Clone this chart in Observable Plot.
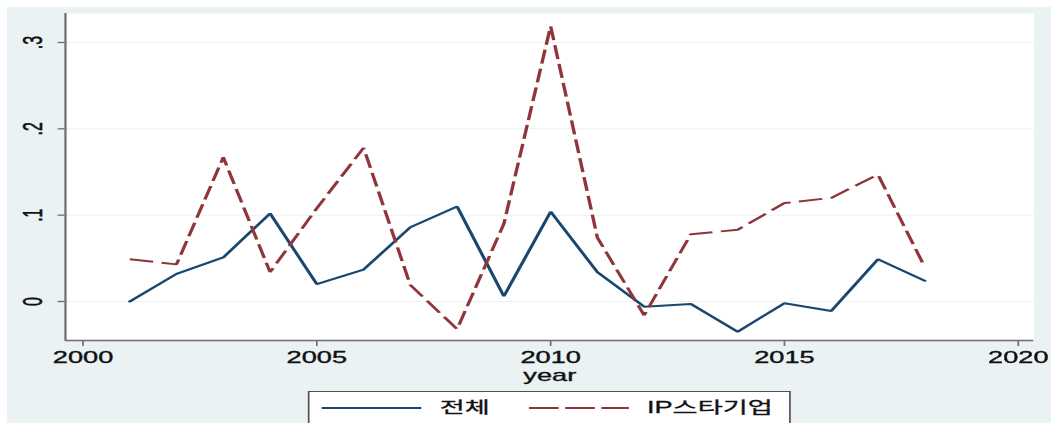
<!DOCTYPE html>
<html>
<head>
<meta charset="utf-8">
<script src="https://cdn.jsdelivr.net/npm/d3@7"></script>
<script src="https://cdn.jsdelivr.net/npm/@observablehq/plot@0.6"></script>
<style>
html, body { margin: 0; padding: 0; background: #fff; width: 1051px; height: 423px; overflow: hidden; }
#wrap { position: absolute; left: 0; top: 0; width: 618px; height: 423px; transform: scaleX(1.70065); transform-origin: 0 0;
  font-family: "Liberation Sans", "Noto Sans CJK KR", sans-serif; color: #111; }
#bg { position: absolute; left: 3.5px; top: 7px; right: 0; bottom: 0; background: #eaf2f3; }
#chart { position: absolute; left: 0; top: 0; width: 618px; }
#chart svg text { stroke: #111; stroke-width: 0.35px; }
#legend { position: absolute; left: 180.6px; top: 391px; width: 284.7px; height: 40px; box-sizing: border-box;
  border: 1px solid #505050; background: #fff; }
#legend .key { position: absolute; top: 14px; }
#legend .lab { position: absolute; top: 6px; font-size: 16px; line-height: 20px; white-space: nowrap;
  font-family: "Liberation Sans", "Noto Sans CJK KR", sans-serif; -webkit-text-stroke: 0.3px #111; }
</style>
</head>
<body>
<div id="wrap">
  <div id="bg"></div>
  <div id="chart"></div>
  <div id="legend"></div>
</div>
<script>
// ---- data ----
const years = [2001, 2002, 2003, 2004, 2005, 2006, 2007, 2008, 2009, 2010, 2011, 2012, 2013, 2014, 2015, 2016, 2017, 2018];
const totalValues = [0.000, 0.032, 0.051, 0.102, 0.020, 0.037, 0.086, 0.110, 0.006, 0.104, 0.034, -0.006, -0.003, -0.035, -0.002, -0.011, 0.049, 0.024];
const ipStarValues = [0.049, 0.043, 0.167, 0.034, 0.108, 0.178, 0.019, -0.032, 0.090, 0.319, 0.074, -0.016, 0.078, 0.083, 0.114, 0.120, 0.147, 0.040];
const seriesNames = ["전체", "IP스타기업"];
const seriesColors = ["#1a476f", "#90353b"];
const xTicks = [2000, 2005, 2010, 2015, 2020];
const yTicks = [0, 0.1, 0.2, 0.3];
const yTickLabels = ["0", ".1", ".2", ".3"];
const xLabel = "year";
const xDomain = [1999.625, 2020.34];
const yDomain = [-0.0452, 0.3336];

const totalRows = years.map((y, i) => ({year: y, value: totalValues[i]}));
const ipRows = years.map((y, i) => ({year: y, value: ipStarValues[i]}));

const axisColor = "#6e6e6e";

const chart = Plot.plot({
  width: 618,
  height: 385,
  marginLeft: 38,
  marginRight: 10.4,
  marginTop: 13,
  marginBottom: 45,
  style: {background: "transparent", fontFamily: "Liberation Sans, Noto Sans CJK KR, sans-serif", fontSize: "16px", color: "#111", overflow: "visible"},
  x: {domain: xDomain, label: null},
  y: {domain: yDomain, axis: null},
  marks: [
    Plot.frame({fill: "white", stroke: null}),
    Plot.gridY(yTicks, {stroke: "#eaf2f3", strokeOpacity: 1, strokeWidth: 1}),
    Plot.ruleY(yTicks, {x1: xDomain[0] - 0.15, x2: xDomain[0], stroke: axisColor, strokeWidth: 1.3}),
    Plot.text(yTicks, {x: xDomain[0], y: d => d, text: (d, i) => yTickLabels[i], rotate: -90, dx: -19,
      textAnchor: "middle", lineAnchor: "middle", fontSize: 16, fill: "#111"}),
    Plot.axisX({ticks: xTicks, tickFormat: d => String(d), tickSize: 6, tickPadding: 5, fontSize: 16, stroke: axisColor}),
    Plot.text([xLabel], {frameAnchor: "bottom", dy: 35.6, text: d => d, lineAnchor: "middle", fontSize: 16, fill: "#111"}),
    Plot.line(totalRows, {x: "year", y: "value", stroke: seriesColors[0], strokeWidth: 2, strokeLinejoin: "miter"}),
    Plot.line(ipRows, {x: "year", y: "value", stroke: seriesColors[1], strokeWidth: 2, strokeDasharray: "14,5",
      strokeLinecap: "butt", strokeLinejoin: "miter"}),
    Plot.ruleX([xDomain[0]], {stroke: axisColor, strokeWidth: 1.3}),
    Plot.ruleY([yDomain[0]], {stroke: axisColor, strokeWidth: 1.5})
  ]
});
document.getElementById("chart").appendChild(chart);

// ---- legend ----
const legend = document.getElementById("legend");
const keyLefts = [7.6, 129.4];
const labLefts = [77, 198.8];
seriesNames.forEach((name, i) => {
  const ns = "http://www.w3.org/2000/svg";
  const svg = document.createElementNS(ns, "svg");
  svg.setAttribute("width", "58.8");
  svg.setAttribute("height", "4");
  svg.setAttribute("class", "key");
  svg.style.left = keyLefts[i] + "px";
  const ln = document.createElementNS(ns, "line");
  ln.setAttribute("x1", "0"); ln.setAttribute("x2", "58.8");
  ln.setAttribute("y1", "2"); ln.setAttribute("y2", "2");
  ln.setAttribute("stroke", seriesColors[i]);
  ln.setAttribute("stroke-width", "2");
  if (i === 1) ln.setAttribute("stroke-dasharray", "17.5,3.8");
  svg.appendChild(ln);
  legend.appendChild(svg);
  const lab = document.createElement("div");
  lab.className = "lab";
  lab.style.left = labLefts[i] + "px";
  lab.textContent = name;
  legend.appendChild(lab);
});
</script>
</body>
</html>
